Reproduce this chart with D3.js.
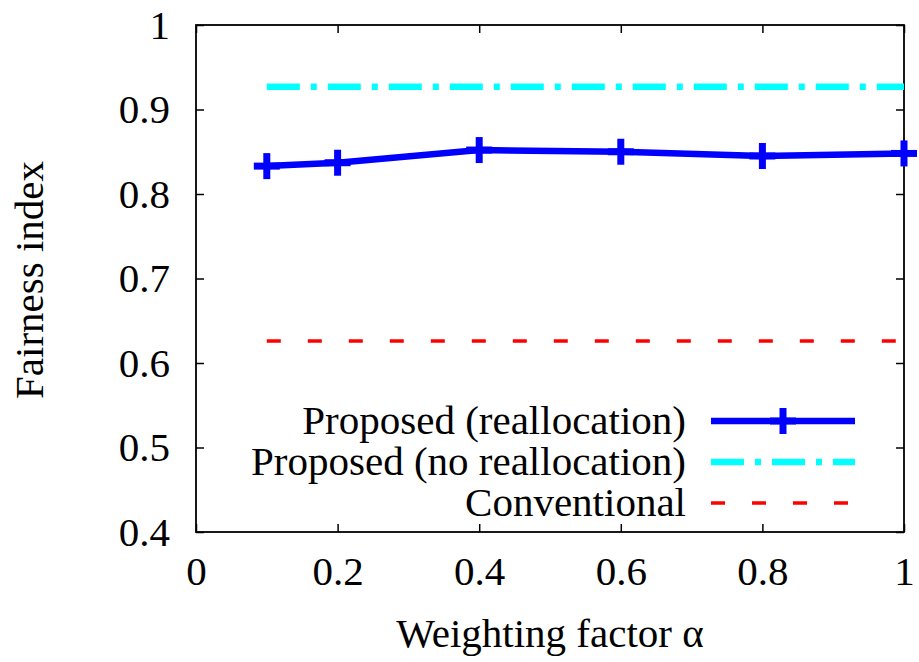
<!DOCTYPE html>
<html>
<head>
<meta charset="utf-8">
<script src="https://cdn.jsdelivr.net/npm/d3@7"></script>
<style>
body { margin: 0; background: #fff; }
text { font-family: "Liberation Serif", "Times New Roman", serif; fill: #000; }
</style>
</head>
<body>
<div id="chart"></div>
<script>
// data
var alphas = [0.1, 0.2, 0.4, 0.6, 0.8, 1.0];
var proposedRealloc = [0.833, 0.837, 0.852, 0.850, 0.845, 0.848];
var proposedNoRealloc = [0.927, 0.927];
var conventional = [0.626, 0.626];
var flatRange = [0.1, 1.0];
var xTicks = [0, 0.2, 0.4, 0.6, 0.8, 1];
var yTicks = [0.4, 0.5, 0.6, 0.7, 0.8, 0.9, 1];
var seriesNames = ['Proposed (reallocation)', 'Proposed (no reallocation)', 'Conventional'];

var width = 919, height = 662;
var plotL = 196, plotR = 904, plotT = 25, plotB = 532;
var fontSize = '41px';

var svg = d3.select('#chart').append('svg')
    .attr('width', width)
    .attr('height', height);

var x = d3.scaleLinear().domain([0, 1]).range([plotL, plotR]);
var y = d3.scaleLinear().domain([0.4, 1]).range([plotB, plotT]);

var fmt = function(d) { return d === 0 || d === 1 ? d3.format('d')(d) : d3.format('.1f')(d); };

// axes, gnuplot style: ticks inside on all four sides
var tickLen = 8;
svg.append('g').attr('transform', 'translate(0,' + plotB + ')')
    .call(d3.axisBottom(x).tickValues(xTicks).tickSize(-tickLen).tickPadding(24).tickFormat(fmt))
    .call(function(g) { g.select('.domain').remove(); });
svg.append('g').attr('transform', 'translate(0,' + plotT + ')')
    .call(d3.axisTop(x).tickValues(xTicks).tickSize(-tickLen).tickFormat(''))
    .call(function(g) { g.select('.domain').remove(); });
svg.append('g').attr('transform', 'translate(' + plotL + ',0)')
    .call(d3.axisLeft(y).tickValues(yTicks).tickSize(-tickLen).tickPadding(26).tickFormat(fmt))
    .call(function(g) { g.select('.domain').remove(); });
svg.append('g').attr('transform', 'translate(' + plotR + ',0)')
    .call(d3.axisRight(y).tickValues(yTicks).tickSize(-tickLen).tickFormat(''))
    .call(function(g) { g.select('.domain').remove(); });

svg.selectAll('.tick line').attr('stroke', '#000').attr('stroke-width', 1.5);
svg.selectAll('.tick text').style('font-size', fontSize).attr('fill', '#000');

svg.append('rect')
    .attr('x', plotL).attr('y', plotT)
    .attr('width', plotR - plotL).attr('height', plotB - plotT)
    .attr('fill', 'none').attr('stroke', '#000').attr('stroke-width', 1.8);

// axis titles
svg.append('text')
    .attr('x', 550).attr('y', 647)
    .attr('text-anchor', 'middle')
    .style('font-size', fontSize)
    .text('Weighting factor α');
svg.append('text')
    .attr('transform', 'translate(43,' + 280 + ') rotate(-90)')
    .attr('text-anchor', 'middle')
    .style('font-size', fontSize)
    .text('Fairness index');

var line = d3.line().x(function(d) { return x(d[0]); }).y(function(d) { return y(d[1]); });

// conventional
svg.append('path')
    .datum(d3.zip(flatRange, conventional))
    .attr('d', line)
    .attr('fill', 'none').attr('stroke', '#ff0000').attr('stroke-width', 3.5)
    .attr('stroke-dasharray', '14,27');

// proposed, no reallocation
svg.append('path')
    .datum(d3.zip(flatRange, proposedNoRealloc))
    .attr('d', line)
    .attr('fill', 'none').attr('stroke', '#00ffff').attr('stroke-width', 6.5)
    .attr('stroke-dasharray', '33,11,6,11');

// proposed, reallocation
var blue = '#0000ff';
svg.append('path')
    .datum(d3.zip(alphas, proposedRealloc))
    .attr('d', line)
    .attr('fill', 'none').attr('stroke', blue).attr('stroke-width', 6.5);

function plus(g, cx, cy) {
    g.append('line').attr('x1', cx).attr('x2', cx).attr('y1', cy - 13).attr('y2', cy + 13)
        .attr('stroke', blue).attr('stroke-width', 7);
    g.append('line').attr('x1', cx - 13).attr('x2', cx + 13).attr('y1', cy).attr('y2', cy)
        .attr('stroke', blue).attr('stroke-width', 7);
}
var marks = svg.append('g');
alphas.forEach(function(a, i) { plus(marks, x(a), y(proposedRealloc[i])); });

// legend
var legY = [421, 462, 503];
var lx1 = 711, lx2 = 855;
var leg = svg.append('g');
seriesNames.forEach(function(name, i) {
    leg.append('text')
        .attr('x', 686).attr('y', legY[i] + 13)
        .attr('text-anchor', 'end')
        .style('font-size', fontSize)
        .text(name);
});
leg.append('line').attr('x1', lx1).attr('x2', lx2).attr('y1', legY[0]).attr('y2', legY[0])
    .attr('stroke', blue).attr('stroke-width', 6.5);
plus(leg, (lx1 + lx2) / 2, legY[0]);
leg.append('line').attr('x1', lx1).attr('x2', lx2).attr('y1', legY[1]).attr('y2', legY[1])
    .attr('stroke', '#00ffff').attr('stroke-width', 6.5).attr('stroke-dasharray', '33,11,6,11');
leg.append('line').attr('x1', lx1).attr('x2', lx2).attr('y1', legY[2]).attr('y2', legY[2])
    .attr('stroke', '#ff0000').attr('stroke-width', 3.5).attr('stroke-dasharray', '14,27');
</script>
</body>
</html>
